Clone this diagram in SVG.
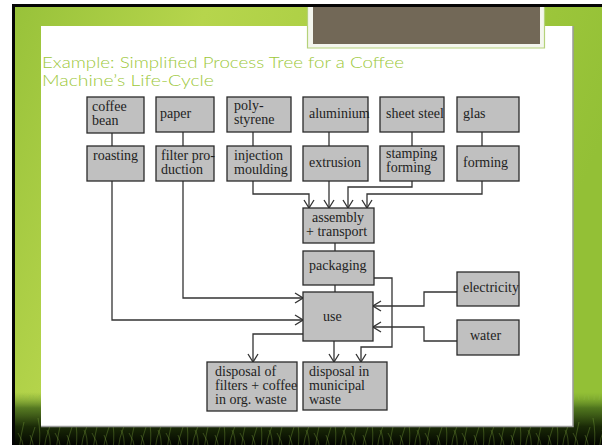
<svg xmlns="http://www.w3.org/2000/svg" width="602" height="445" viewBox="0 0 602 445">
<defs>
<linearGradient id="frame" x1="0" y1="0" x2="1" y2="0.3">
<stop offset="0" stop-color="#98c23a"/>
<stop offset="0.3" stop-color="#b6d54c"/>
<stop offset="0.7" stop-color="#a3ca3e"/>
<stop offset="1" stop-color="#93c036"/>
</linearGradient>
<linearGradient id="grass" x1="0" y1="0" x2="0" y2="1">
<stop offset="0" stop-color="#6f9a2a" stop-opacity="0"/>
<stop offset="0.3" stop-color="#3f6318" stop-opacity="0.8"/>
<stop offset="0.65" stop-color="#1a2a07"/>
<stop offset="1" stop-color="#030500"/>
</linearGradient>
<pattern id="blades" x="0" y="0" width="37" height="50" patternUnits="userSpaceOnUse">
<path d="M2,50 Q4,32 1,18 M7,50 Q8,38 13,26 M13,50 Q14,36 10,30 M19,50 Q21,34 24,22 M24,50 Q23,40 18,33 M29,50 Q31,38 35,27 M34,50 Q33,41 30,35" fill="none" stroke="#8fbb45" stroke-width="0.9" stroke-opacity="0.35"/>
</pattern>
<marker id="arr" viewBox="-9 -6 10 12" refX="0" refY="0" markerWidth="10" markerHeight="12" markerUnits="userSpaceOnUse" orient="auto">
<path d="M-8,-5 L0,0 L-8,5" fill="none" stroke="#333" stroke-width="1.3"/>
</marker>
</defs>
<style>
.box{fill:#c0c0c0;stroke:#2a2a2a;stroke-width:1.3}
.t{font-family:"Liberation Serif","Times New Roman",serif;font-size:14px;fill:#1e1e1e}
.c{fill:none;stroke:#333;stroke-width:1.3}
.a{marker-end:url(#arr)}
.title{font-family:Lato,"Open Sans","DejaVu Sans",sans-serif;font-weight:300;font-size:15px;fill:#9dc83a}
</style>
<rect x="0" y="0" width="602" height="445" fill="#ffffff"/>
<rect x="12" y="4" width="590" height="441" fill="#050505"/>
<rect x="15" y="7" width="587" height="438" fill="url(#frame)"/>
<rect x="15" y="392" width="587" height="53" fill="url(#grass)"/>
<rect x="15" y="395" width="587" height="50" fill="url(#blades)"/>
<rect x="41" y="26" width="532" height="400" fill="#ffffff"/>
<path d="M573,26 V426.5 H41" fill="none" stroke="#9a9a9a" stroke-width="1.5"/>
<rect x="307" y="7" width="237" height="41" fill="#f4f6ee"/>
<path d="M307.5,7 V48 H544.5 V7" fill="none" stroke="#b5d27a" stroke-width="1.2"/>
<rect x="313" y="7" width="227" height="37" fill="#726857"/>
<rect x="12" y="4" width="590" height="3" fill="#050505"/>
<text class="title" x="42" y="68" textLength="362" lengthAdjust="spacingAndGlyphs">Example: Simplified Process Tree for a Coffee</text>
<text class="title" x="42" y="86" textLength="172" lengthAdjust="spacingAndGlyphs">Machine’s Life-Cycle</text>
<g id="connectors">
<path class="c" d="M112,133 V146"/>
<path class="c" d="M183,132 V146"/>
<path class="c" d="M253,132 V146"/>
<path class="c" d="M329,132 V146"/>
<path class="c" d="M412,132 V146"/>
<path class="c" d="M482,132 V146"/>
<path class="c a" d="M253,181 V194 H309 V208"/>
<path class="c a" d="M329,181 V208"/>
<path class="c a" d="M412,181 V187 H348 V208"/>
<path class="c a" d="M482,181 V194 H367 V208"/>
<path class="c" d="M335,243 V251"/>
<path class="c" d="M335,285 V292"/>
<path class="c a" d="M112,181 V320 H303"/>
<path class="c a" d="M183,181 V298 H303"/>
<path class="c a" d="M303,334 H253 V362"/>
<path class="c a" d="M334,341 V362"/>
<path class="c a" d="M374,278 H392 V347 H361 V362"/>
<path class="c a" d="M457,292 H424 V306 H373"/>
<path class="c a" d="M457,341 H424 V327 H373"/>
</g>
<g id="coffee-bean"><rect class="box" x="87" y="97" width="57" height="36"/><text class="t" x="92" y="111">coffee</text><text class="t" x="92" y="125">bean</text></g>
<g id="paper"><rect class="box" x="156" y="97" width="58" height="35"/><text class="t" x="160" y="118">paper</text></g>
<g id="polystyrene"><rect class="box" x="227" y="97" width="64" height="35"/><text class="t" x="234" y="110">poly-</text><text class="t" x="234" y="124">styrene</text></g>
<g id="aluminium"><rect class="box" x="303" y="97" width="65" height="35"/><text class="t" x="309" y="118">aluminium</text></g>
<g id="sheet-steel"><rect class="box" x="380" y="97" width="64" height="35"/><text class="t" x="386" y="118">sheet steel</text></g>
<g id="glas"><rect class="box" x="457" y="97" width="62" height="35"/><text class="t" x="463" y="118">glas</text></g>
<g id="roasting"><rect class="box" x="87" y="146" width="57" height="35"/><text class="t" x="93" y="160">roasting</text></g>
<g id="filter-production"><rect class="box" x="156" y="146" width="58" height="35"/><text class="t" x="161" y="160">filter pro-</text><text class="t" x="161" y="174">duction</text></g>
<g id="injection-moulding"><rect class="box" x="227" y="146" width="64" height="35"/><text class="t" x="234" y="160">injection</text><text class="t" x="234" y="174">moulding</text></g>
<g id="extrusion"><rect class="box" x="303" y="146" width="65" height="35"/><text class="t" x="309" y="167">extrusion</text></g>
<g id="stamping-forming"><rect class="box" x="380" y="146" width="64" height="35"/><text class="t" x="386" y="158">stamping</text><text class="t" x="386" y="172">forming</text></g>
<g id="forming"><rect class="box" x="457" y="146" width="62" height="35"/><text class="t" x="463" y="167">forming</text></g>
<g id="assembly"><rect class="box" x="303" y="208" width="71" height="35"/><text class="t" x="312" y="222">assembly</text><text class="t" x="306" y="236">+ transport</text></g>
<g id="packaging"><rect class="box" x="303" y="251" width="71" height="34"/><text class="t" x="309" y="270">packaging</text></g>
<g id="use"><rect class="box" x="303" y="292" width="70" height="49"/><text class="t" x="323" y="321">use</text></g>
<g id="electricity"><rect class="box" x="457" y="272" width="62" height="34"/><text class="t" x="463" y="292">electricity</text></g>
<g id="water"><rect class="box" x="457" y="320" width="62" height="35"/><text class="t" x="470" y="340">water</text></g>
<g id="disposal-organic"><rect class="box" x="207" y="362" width="90" height="49"/><text class="t" x="215" y="376">disposal of</text><text class="t" x="215" y="390">filters + coffee</text><text class="t" x="215" y="404">in org. waste</text></g>
<g id="disposal-municipal"><rect class="box" x="303" y="362" width="84" height="48"/><text class="t" x="309" y="376">disposal in</text><text class="t" x="309" y="390">municipal</text><text class="t" x="309" y="404">waste</text></g>
</svg>
